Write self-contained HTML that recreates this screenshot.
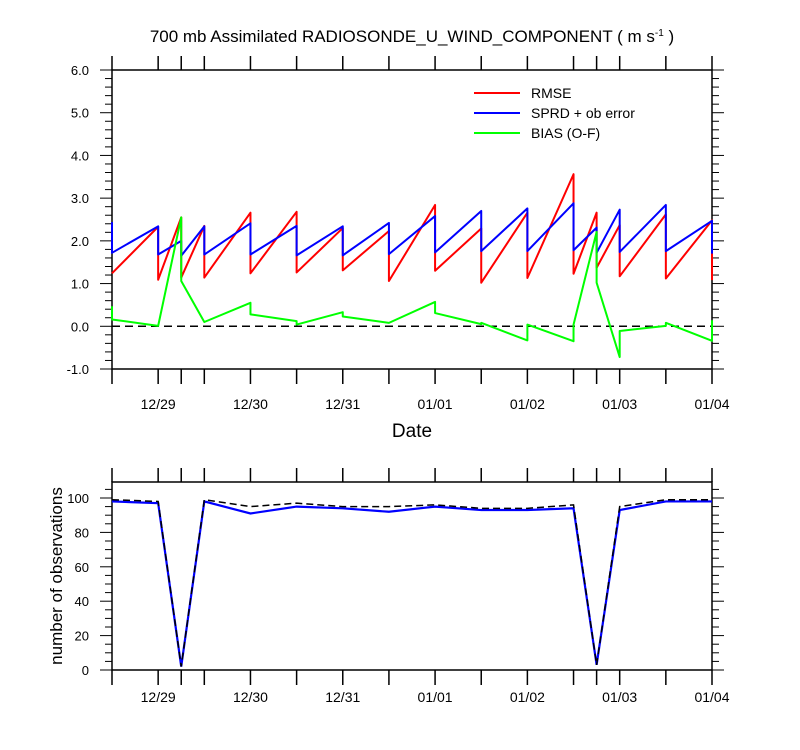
<!DOCTYPE html>
<html><head><meta charset="utf-8">
<style>
html,body{margin:0;padding:0;background:#fff;}
svg{display:block;font-family:"Liberation Sans",Arial,sans-serif;}
</style></head>
<body>
<svg id="chart" width="800" height="750" viewBox="0 0 800 750" xmlns="http://www.w3.org/2000/svg">
<text x="412" y="42" font-size="17" text-anchor="middle">700 mb Assimilated RADIOSONDE_U_WIND_COMPONENT ( m s<tspan dy="-6" font-size="10">-1</tspan><tspan dy="6"> )</tspan></text>
<text x="412" y="437" font-size="19" text-anchor="middle">Date</text>
<text transform="translate(62,576) rotate(-90)" font-size="17" text-anchor="middle">number of observations</text>
<g id="topPlot"></g>
<g id="botPlot"></g>
<g>
<line x1="474" y1="93" x2="520" y2="93" stroke="#f00" stroke-width="2"/>
<text x="531" y="98" font-size="14">RMSE</text>
<line x1="474" y1="113" x2="520" y2="113" stroke="#00f" stroke-width="2"/>
<text x="531" y="118" font-size="14">SPRD + ob error</text>
<line x1="474" y1="133" x2="520" y2="133" stroke="#0f0" stroke-width="2"/>
<text x="531" y="138" font-size="14">BIAS (O-F)</text>
</g>
</svg>
<script>
const hours=[0,12,18,24,36,48,60,72,84,96,108,120,126,132,144,156];
const rmsePre=[1.24,2.33,2.55,2.35,2.66,2.68,2.30,2.23,2.84,2.29,2.66,3.56,2.66,2.37,2.62,2.48];
const rmsePost=[1.24,1.09,1.14,1.14,1.24,1.26,1.31,1.06,1.30,1.02,1.13,1.23,1.37,1.17,1.12,1.08];
const sprdPre=[2.44,2.34,2.00,2.34,2.41,2.35,2.34,2.42,2.58,2.70,2.76,2.88,2.31,2.73,2.84,2.47];
const sprdPost=[1.72,1.68,1.65,1.68,1.68,1.66,1.66,1.69,1.73,1.76,1.76,1.78,1.72,1.74,1.76,1.70];
const biasPre=[0.47,0.01,2.55,0.10,0.55,0.12,0.33,0.08,0.57,0.05,-0.33,-0.35,2.21,-0.72,0.01,-0.34];
const biasPost=[0.16,0.01,1.06,0.10,0.28,0.04,0.23,0.08,0.31,0.08,0.04,0.04,1.02,-0.11,0.08,0.14];
const obsUsed=[98,97,2,98,91,95,94,92,95,93,93,94,3,93,98,98];
const obsTotal=[99,98,2,99,95,97,95,95,96,94,94,96,3,95,99,99];
const dayLabels=["12/29","12/30","12/31","01/01","01/02","01/03","01/04"];
const dayHours=[12,36,60,84,108,132,156];
const topTicks=[-1,0,1,2,3,4,5,6];
const botTicks=[0,20,40,60,80,100];

const NS="http://www.w3.org/2000/svg";
const X0=112,X1=712,H0=0,H1=156;
const xs=h=>X0+(h-H0)/(H1-H0)*(X1-X0);
const T_TOP=70,T_BOT=369,TMIN=-1,TMAX=6;
const yt=v=>T_BOT-(v-TMIN)/(TMAX-TMIN)*(T_BOT-T_TOP);
const B_TOP=482,B_BOT=670,BMIN=0,BMAX=109.3;
const yb=v=>B_BOT-(v-BMIN)/(BMAX-BMIN)*(B_BOT-B_TOP);
function mk(tag,attrs,parent){const e=document.createElementNS(NS,tag);for(const k in attrs)e.setAttribute(k,attrs[k]);parent.appendChild(e);return e;}
const gTop=document.getElementById('topPlot'),gBot=document.getElementById('botPlot');

function frame(g,yT,yB,ticks,fmt,ymap,minorStep,vmin,vmax,labOff){
  const r=mk('rect',{x:X0,y:yT,width:X1-X0,height:yB-yT,fill:'none',stroke:'#000','stroke-width':1.5},g);
  
  
  const n=Math.round((vmax-vmin)/minorStep);
  for(let k=0;k<=n;k++){
    const v=vmin+k*minorStep;
    const y=ymap(v);if(y<yT-0.5)continue;
    const isMaj=ticks.some(t=>Math.abs(t-v)<1e-6);
    const len=isMaj?12:7;
    const l=mk('line',{x1:X0-len,x2:X0,y1:y,y2:y,stroke:'#000','stroke-width':1},g);
    
    
    const l2=mk('line',{x1:X1,x2:X1+len,y1:y,y2:y,stroke:'#000','stroke-width':1},g);
    
    
  }
  ticks.forEach(t=>{
    const tx=mk('text',{x:X0-23,y:ymap(t)+5,'font-size':13,'text-anchor':'end'},g);
    tx.textContent=fmt(t);
    
    
  });
  hours.forEach(h=>{
    const x=xs(h);
    const a=mk('line',{x1:x,x2:x,y1:yB,y2:yB+15,stroke:'#000','stroke-width':1.5},g);
    
    
    const b=mk('line',{x1:x,x2:x,y1:yT-14,y2:yT,stroke:'#000','stroke-width':1.5},g);
    
    
  });
  dayLabels.forEach((d,i)=>{
    const tx=mk('text',{x:xs(dayHours[i]),y:yB+labOff,'font-size':14,'text-anchor':'middle'},g);
    tx.textContent=d;
    
    
  });
}
frame(gTop,T_TOP,T_BOT,topTicks,v=>v.toFixed(1),yt,0.2,-1,6,40);
frame(gBot,B_TOP,B_BOT,botTicks,v=>String(v),yb,5,0,105,32);

const zl=mk('line',{x1:X0,x2:X1,y1:yt(0),y2:yt(0),stroke:'#000','stroke-width':1.5,'stroke-dasharray':'8,5'},gTop);



function saw(pre,post,color,name){
  let d='';
  hours.forEach((h,i)=>{d+=(i?'L':'M')+xs(h)+','+yt(pre[i])+'L'+xs(h)+','+yt(post[i]);});
  const p=mk('path',{d:d,fill:'none',stroke:color,'stroke-width':2,'stroke-linejoin':'round'},gTop);
  
  
}
saw(rmsePre,rmsePost,'#f00','rmse-line');
saw(sprdPre,sprdPost,'#00f','sprd-line');
saw(biasPre,biasPost,'#0f0','bias-line');

function line(vals,color,dash,w,name){
  const d=hours.map((h,i)=>(i?'L':'M')+xs(h)+','+yb(vals[i])).join('');
  const a={d:d,fill:'none',stroke:color,'stroke-width':w};if(dash)a['stroke-dasharray']=dash;
  const p=mk('path',a,gBot);
  
  
}
line(obsUsed,'#00f',null,2.2,'obs-used-line');
line(obsTotal,'#000','7,4',1.5,'obs-total-line');
</script>
</body></html>
